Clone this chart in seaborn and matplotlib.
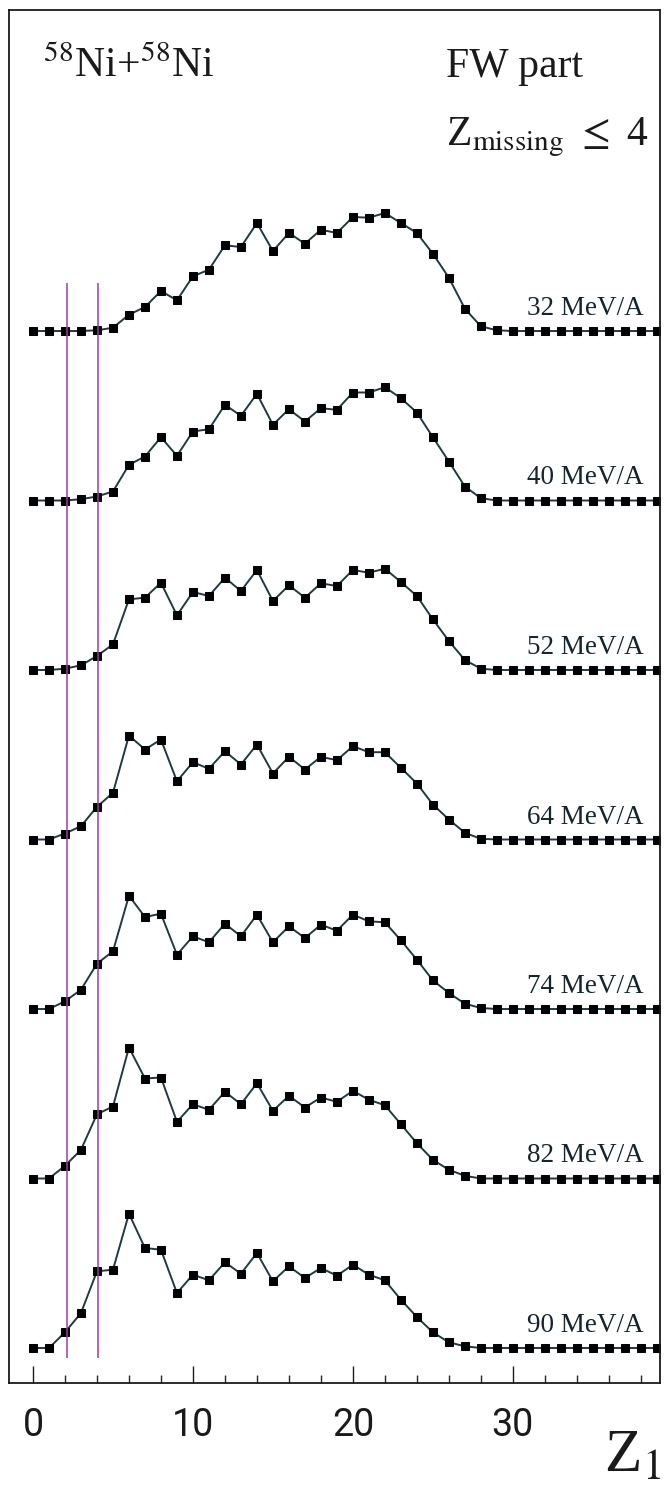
import numpy as np
import pandas as pd
import matplotlib
matplotlib.use("Agg")
import matplotlib.pyplot as plt
import seaborn as sns

# ---------------- data ----------------
Z = list(range(40))
energies = ["32 MeV/A", "40 MeV/A", "52 MeV/A", "64 MeV/A", "74 MeV/A", "82 MeV/A", "90 MeV/A"]

y32 = [0, 0, 0, 0, 0.7, 3.3, 16.3, 24, 40, 30.7, 54.7, 61.3, 85.7, 84, 108, 80, 98, 87.3, 101.3, 98,
       114, 113.3, 118, 108, 98, 77.3, 53.3, 22.3, 4.7, 0.7] + [0] * 10
y40 = [0, 0, 0, 1.3, 4, 9, 35.7, 44, 63.3, 44.7, 69, 71.3, 95.7, 84.7, 106.7, 75.7, 91.3, 79, 92.3, 90.7,
       108, 108, 113.3, 102.3, 88, 63.3, 39, 14, 2.3, 0] + [0] * 10
y52 = [0, 0, 1.3, 4.7, 14, 25.7, 70.7, 72.3, 87.3, 54.7, 78, 74, 92.3, 79, 100, 69, 84.7, 72.3, 86.7, 84,
       100, 97.3, 101.3, 88, 74, 50.7, 29, 10, 1.3, 0] + [0] * 10
y64 = [0, 0, 6, 13.3, 32.7, 46.7, 104, 90, 100, 58.3, 77.3, 70.7, 88.3, 75, 95, 66, 82.7, 70, 82.7, 79.3,
       93.3, 87.3, 87.3, 71.7, 56, 35, 20, 6.7, 0.7, 0] + [0] * 10
y74 = [0, 0, 7.7, 19.3, 45.3, 57.7, 113.3, 92, 95.3, 54.3, 72.7, 66.7, 85.3, 72.7, 94.3, 66.7, 82.7, 71, 84.3, 78.3,
       94.3, 87.7, 86.7, 68.7, 49.3, 28.7, 16, 5.3, 1, 0] + [0] * 10
y82 = [0, 0, 12.7, 28.7, 64.3, 72, 131, 100, 101, 56.7, 74.3, 68.7, 86.7, 74.3, 95.3, 67.7, 82.7, 71, 81, 76.7,
       87.7, 78.7, 73.3, 54.3, 35.3, 18.7, 8.7, 2.7, 0, 0] + [0] * 10
y90 = [0, 0, 15.7, 35, 76.7, 78.3, 134.3, 100, 98.3, 55, 73.3, 67.7, 85.7, 74.3, 95, 66.7, 81.7, 70, 80, 72.3,
       83.3, 73.3, 67.7, 48.3, 31, 15.7, 5.7, 1.7, 0, 0] + [0] * 10

series = [y32, y40, y52, y64, y74, y82, y90]
# vertical offsets of each spectrum (stacked display, top to bottom)
offsets = [1052, 882.5, 713, 543.5, 374, 204.5, 35]

ref_lines = [2.1, 4.05]
xticks_major = [0, 10, 20, 30]

# ---------------- style ----------------
sns.set_theme(style="white")
plt.rcParams["mathtext.fontset"] = "stix"
plt.rcParams["font.family"] = ["Liberation Serif", "DejaVu Serif"]

fig = plt.figure(figsize=(6.64, 14.95), dpi=100)
ax = fig.add_axes([9 / 664, 1 - 1383 / 1495, (660 - 9) / 664, (1383 - 10) / 1495])

rows = []
for name, vals, off in zip(energies, series, offsets):
    for z, v in zip(Z, vals):
        rows.append({"Z": z, "y": v + off, "energy": name})
df = pd.DataFrame(rows)

for name in energies:
    sub = df[df["energy"] == name]
    sns.lineplot(data=sub, x="Z", y="y", ax=ax, color="#1f3a40", linewidth=1.4,
                 marker="s", markersize=5.6, markerfacecolor="black", markeredgecolor="black",
                 legend=False, sort=False)

for name, off in zip(energies, offsets):
    ax.text(38.2, off + 16, name, ha="right", va="baseline", fontsize=19.5, color="#15252b",
            family=["Liberation Serif", "DejaVu Serif"])

ax.vlines(ref_lines, 25, 1100, colors="#a03ca8", linewidth=1.1)

ax.set_xlim(-1.5, 39.2)
ax.set_ylim(0, 1373)
ax.set_xlabel("")
ax.set_ylabel("")
ax.set_yticks([])
ax.set_xticks(xticks_major)
ax.set_xticks(np.arange(0, 40, 2), minor=True)
ax.tick_params(axis="x", which="major", direction="in", length=12, width=1.0, pad=17,
               labelsize=27, colors="#1a1a1a", bottom=True, top=False)
ax.tick_params(axis="x", which="minor", direction="in", length=6, width=1.0,
               bottom=True, top=False)
for lab in ax.get_xticklabels():
    lab.set_family(["Roboto", "DejaVu Sans"])
for sp in ax.spines.values():
    sp.set_visible(True)
    sp.set_color("#1a1a1a")
    sp.set_linewidth(1.3)

# annotations
ax.text(0.6, 1306, r"$^{58}$Ni+$^{58}$Ni", fontsize=30, ha="left", va="baseline", color="#1a1a1a")
ax.text(25.8, 1306, "FW part", fontsize=30, ha="left", va="baseline", color="#1a1a1a")
ax.text(25.8, 1238, r"Z$_{\mathrm{missing}}$ $\leq$ 4", fontsize=30, ha="left", va="baseline", color="#1a1a1a")

fig.text(604 / 664, 1 - 1472 / 1495, r"Z$_{\mathrm{1}}$", fontsize=44, ha="left", va="baseline", color="#1a1a1a")

fig.savefig("out.png", dpi=100, facecolor="white")
